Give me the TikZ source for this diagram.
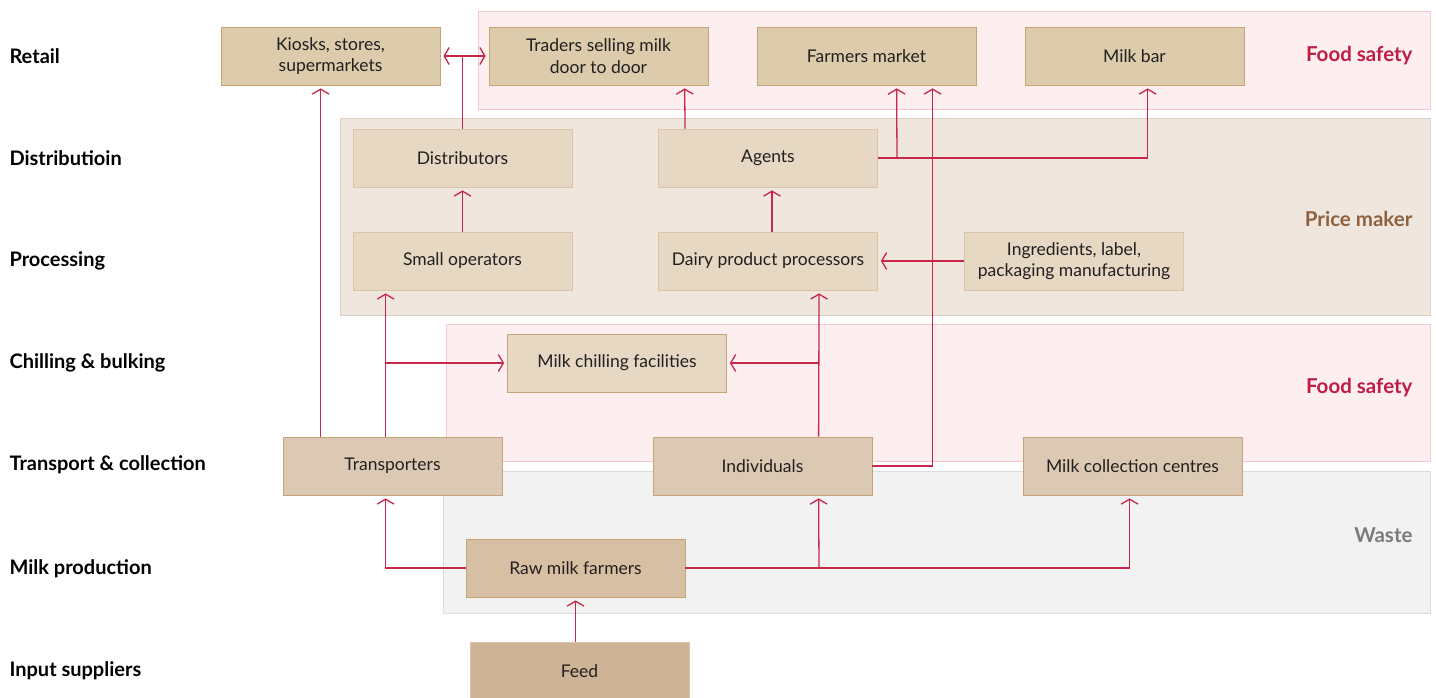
\documentclass[tikz,border=0pt]{standalone}
\usepackage{fontspec}
\setmainfont{Lato}
\usepackage{tikz}
\usetikzlibrary{arrows.meta}
\definecolor{linkred}{HTML}{C8274A}
\definecolor{safetyfill}{HTML}{FDEEEF}
\definecolor{safetyline}{HTML}{F5C9CF}
\definecolor{pricefill}{HTML}{EFE6DD}
\definecolor{priceline}{HTML}{DDD0C3}
\definecolor{wastefill}{HTML}{F1F2F1}
\definecolor{wasteline}{HTML}{DCDCDC}
\definecolor{retailbox}{HTML}{DCCCAC}
\definecolor{procbox}{HTML}{E6D8C3}
\definecolor{transbox}{HTML}{DCC9B3}
\definecolor{rawbox}{HTML}{D7BFA3}
\definecolor{feedbox}{HTML}{CEB497}
\definecolor{boxline}{HTML}{C9A27A}
\definecolor{boxlinelight}{HTML}{DCC3A5}
\definecolor{ink}{HTML}{231F20}
\definecolor{safetyred}{HTML}{BE1E45}
\definecolor{pricebrown}{HTML}{8E6240}
\definecolor{wastegray}{HTML}{7A7B7D}

\begin{document}
\begin{tikzpicture}[x=1pt, y=-1pt,
  box/.style={draw=boxline, line width=0.8pt, minimum width=219, minimum height=58,
    inner sep=0pt, align=center, text=ink, font=\fontsize{17.5}{21.5}\selectfont},
  lightbox/.style={box, draw=boxlinelight, fill=procbox},
  stage/.style={anchor=west, text=black, font=\fontsize{20}{23}\selectfont\bfseries},
  tag/.style={anchor=east, font=\fontsize{20.5}{23}\selectfont\bfseries},
  link/.style={draw=linkred, line width=1.3pt},
  flow/.style={link, -{Straight Barb[length=5pt,width=17pt]}, shorten >=3pt}]
\useasboundingbox (0,0) rectangle (1436,697);
%%%%% Regions %%%%%
\draw[fill=safetyfill, draw=safetyline] (478,11) rectangle (1430,109);
\draw[fill=pricefill, draw=priceline] (340,118) rectangle (1430,315);
\draw[fill=safetyfill, draw=safetyline] (446,324) rectangle (1430,461);
\draw[fill=wastefill, draw=wasteline] (443,471) rectangle (1430,613);
\node[tag, text=safetyred] at (1416,56) {Food safety};
\node[tag, text=pricebrown] at (1416,219) {Price maker};
\node[tag, text=safetyred] at (1416,388) {Food safety};
\node[tag, text=wastegray] at (1416,535) {Waste};
%%%%% Stages %%%%%
\node[stage] (sretail) at (6,56) {Retail};
\node[stage] (sdist) at (6,158) {Distributioin};
\node[stage] (sproc) at (6,261) {Processing};
\node[stage] (schill) at (6,363) {Chilling \& bulking};
\node[stage] (strans) at (6,465) {Transport \& collection};
\node[stage] (smilk) at (6,569) {Milk production};
\node[stage] (sinput) at (6,671) {Input suppliers};
%%%%% Boxes %%%%%
\node[box, fill=retailbox] (kiosk) at (330.5,56) {Kiosks, stores,\\supermarkets};
\node[box, fill=retailbox] (traders) at (598.5,56) {Traders selling milk\\door to door};
\node[box, fill=retailbox] (farmers) at (866.5,56) {Farmers market};
\node[box, fill=retailbox] (milkbar) at (1134.5,56) {Milk bar};
\node[lightbox] (distr) at (462.5,158) {Distributors};
\node[lightbox] (agents) at (768,158) {Agents};
\node[lightbox] (smallop) at (462.5,261) {Small operators};
\node[lightbox] (dairy) at (768,261) {Dairy product processors};
\node[lightbox] (ingr) at (1074,261) {Ingredients, label,\\packaging manufacturing};
\node[box, fill=procbox] (chill) at (617,363) {Milk chilling facilities};
\node[box, fill=transbox] (trans) at (392.5,466) {Transporters};
\node[box, fill=transbox] (indiv) at (762.5,466) {Individuals};
\node[box, fill=transbox] (coll) at (1132.5,466) {Milk collection centres};
\node[box, fill=rawbox] (raw) at (575.5,568) {Raw milk farmers};
\node[box, fill=feedbox, draw=boxlinelight] (feed) at (579.5,671) {Feed};
%%%%% Links %%%%%
\coordinate (jtrans) at (386,363);
\coordinate (jindiv) at (819,363);
\coordinate (jraw) at (819,568);
\coordinate (jagents) at (897,157);
\draw[flow] (feed.north -| raw.south) -- (raw.south);
\draw[flow] (raw.west) -| ([xshift=103]trans.south west);
\draw[flow] (raw.east) -| ([xshift=107]coll.south west);
\draw[flow] (jraw) -- ([xshift=166]indiv.south west);
\draw[flow] ([xshift=38]trans.north west) -- ([xshift=100]kiosk.south west);
\draw[flow] ([xshift=103]trans.north west) -- ([xshift=33]smallop.south west);
\draw[flow] (jtrans) -- (chill.west);
\draw[flow] ([xshift=166]indiv.north west) -- ([xshift=161]dairy.south west);
\draw[flow] (jindiv) -- (chill.east);
\draw[flow] (indiv.east) -| ([xshift=176]farmers.south west);
\draw[flow] (ingr.west) -- (dairy.east);
\draw[flow] (smallop.north) -- (distr.south);
\draw[flow] ([xshift=4]dairy.north) -- ([xshift=4]agents.south);
\draw[flow] ([xshift=27]agents.north west) -- ([xshift=196]traders.south west);
\draw[flow] (agents.east) -| ([xshift=123]milkbar.south west);
\draw[flow] (jagents) -- ([xshift=140]farmers.south west);
\draw[link] (distr.north) -- (distr.north |- kiosk.east);
\draw[flow, {Straight Barb[length=5pt,width=17pt]}-{Straight Barb[length=5pt,width=17pt]}, shorten <=3pt] (kiosk.east) -- (traders.west);
\end{tikzpicture}
\end{document}
